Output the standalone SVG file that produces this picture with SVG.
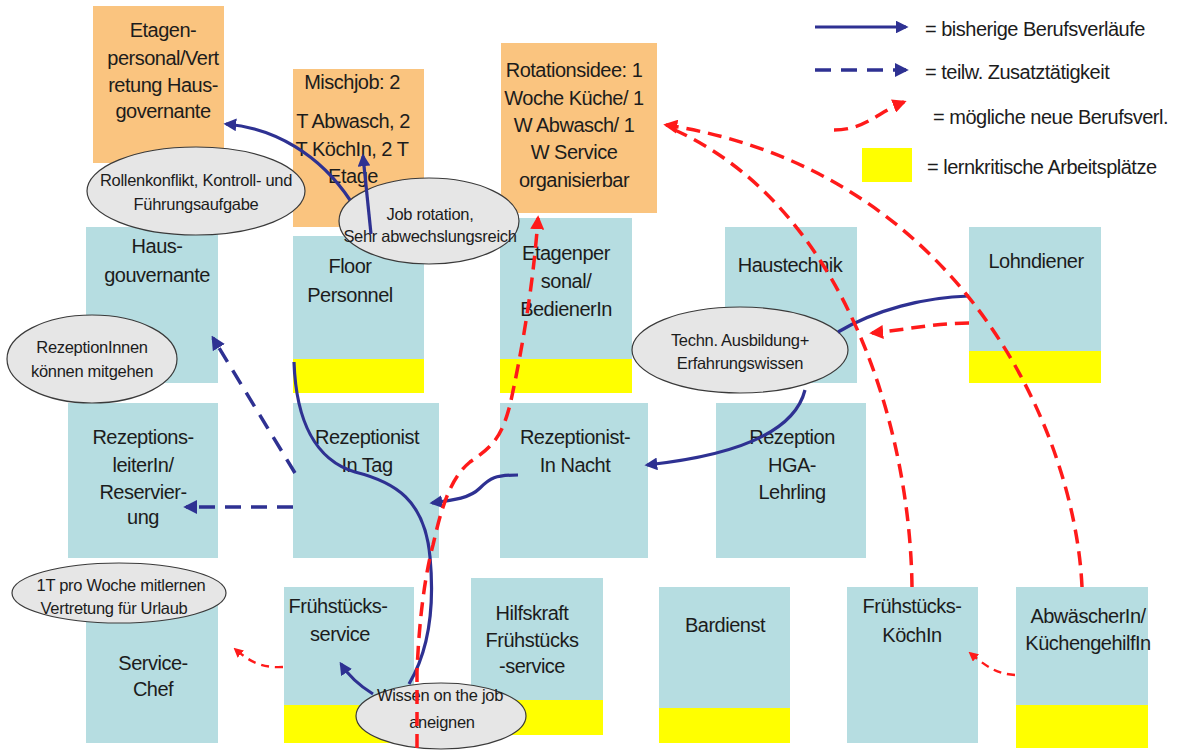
<svg xmlns="http://www.w3.org/2000/svg" width="1183" height="751" viewBox="0 0 1183 751">
<defs>
<style>
.o{fill:#FAC47F}
.b{fill:#B6DDE1}
.y{fill:#FFFF00}
.el{fill:#E6E6E6;stroke:#3A3A3A;stroke-width:1.2}
text{font-family:"Liberation Sans",Arial,sans-serif;fill:#1C1C1C}
.t{font-size:20px;letter-spacing:-0.5px;text-anchor:middle}
.e{font-size:16.5px;letter-spacing:-0.3px;text-anchor:middle}
.lg{font-size:20px;letter-spacing:-0.5px}
.bl{fill:none;stroke:#2E3192;stroke-width:3.2}
.bd{fill:none;stroke:#2E3192;stroke-width:3.5;stroke-dasharray:16 10}
.rd{fill:none;stroke:#FF1A1A;stroke-width:3.5;stroke-dasharray:14 8}
.rs{fill:none;stroke:#FF1A1A;stroke-width:2.4;stroke-dasharray:8 6}
</style>
<marker id="ab" viewBox="0 0 10 10" refX="8" refY="5" markerWidth="4" markerHeight="4" orient="auto"><path d="M0,0 L10,5 L0,10 z" fill="#2E3192"/></marker>
<marker id="ar" viewBox="0 0 10 10" refX="8" refY="5" markerWidth="4" markerHeight="4" orient="auto"><path d="M0,0 L10,5 L0,10 z" fill="#FF1A1A"/></marker>
<marker id="ars" viewBox="0 0 10 10" refX="8" refY="5" markerWidth="4" markerHeight="4" orient="auto"><path d="M0,0 L10,5 L0,10 z" fill="#FF1A1A"/></marker>
</defs>
<rect width="1183" height="751" fill="#FFFFFF"/>

<g id="legend">
<path class="bl" d="M815,27 L906,27" marker-end="url(#ab)"/>
<text class="lg" x="925" y="36">=  bisherige Berufsverläufe</text>
<path class="bd" d="M815,70 L906,70" marker-end="url(#ab)"/>
<text class="lg" x="925" y="79">=  teilw. Zusatztätigkeit</text>
<path class="rd" d="M834,130 C865,130 878,112 904,102" marker-end="url(#ar)"/>
<text class="lg" x="933" y="124">=  mögliche neue Berufsverl.</text>
<rect class="y" x="862" y="148" width="50" height="34"/>
<text class="lg" x="927" y="174">=  lernkritische Arbeitsplätze</text>
</g>

<g id="n-etagen-vertretung">
<rect class="o" x="93" y="6" width="131" height="157"/>
<text class="t" x="163" y="37">Etagen-</text>
<text class="t" x="163" y="65">personal/Vert</text>
<text class="t" x="163" y="92">retung  Haus-</text>
<text class="t" x="163" y="118">governante</text>
</g>
<g id="n-mischjob">
<rect class="o" x="293" y="69" width="131" height="158"/>
<text class="t" x="352" y="89">Mischjob: 2</text>
<text class="t" x="353" y="128">T Abwasch, 2</text>
<text class="t" x="352" y="156">T KöchIn, 2 T</text>
<text class="t" x="353" y="183">Etage</text>
</g>
<g id="n-rotationsidee">
<rect class="o" x="501" y="43" width="156" height="170"/>
<text class="t" x="574" y="77">Rotationsidee: 1</text>
<text class="t" x="574" y="105">Woche Küche/ 1</text>
<text class="t" x="574" y="132">W Abwasch/ 1</text>
<text class="t" x="574" y="159">W Service</text>
<text class="t" x="574" y="187">organisierbar</text>
</g>

<g id="n-hausgouvernante">
<rect class="b" x="86" y="227" width="132" height="156"/>
<text class="t" x="157" y="253">Haus-</text>
<text class="t" x="157" y="282">gouvernante</text>
</g>
<g id="n-floor">
<rect class="b" x="293" y="236" width="131" height="123"/>
<rect class="y" x="293" y="359" width="131" height="34"/>
<text class="t" x="350" y="273">Floor</text>
<text class="t" x="350" y="302">Personnel</text>
</g>
<g id="n-etagenpersonal">
<rect class="b" x="500" y="218" width="132" height="141"/>
<rect class="y" x="500" y="359" width="132" height="34"/>
<text class="t" x="566" y="260">Etagenper</text>
<text class="t" x="566" y="288">sonal/</text>
<text class="t" x="566" y="316">BedienerIn</text>
</g>
<g id="n-haustechnik">
<rect class="b" x="725" y="227" width="132" height="156"/>
<text class="t" x="790" y="272">Haustechnik</text>
</g>
<g id="n-lohndiener">
<rect class="b" x="969" y="227" width="132" height="124"/>
<rect class="y" x="969" y="351" width="132" height="32"/>
<text class="t" x="1036" y="268">Lohndiener</text>
</g>

<g id="n-rezeptionsleiterin">
<rect class="b" x="68" y="403" width="150" height="155"/>
<text class="t" x="143" y="444">Rezeptions-</text>
<text class="t" x="143" y="472">leiterIn/</text>
<text class="t" x="143" y="499">Reservier-</text>
<text class="t" x="143" y="524">ung</text>
</g>
<g id="n-rezeptionist-tag">
<rect class="b" x="293" y="403" width="146" height="155"/>
<text class="t" x="367" y="444">Rezeptionist</text>
<text class="t" x="367" y="472">In Tag</text>
</g>
<g id="n-rezeptionist-nacht">
<rect class="b" x="500" y="403" width="148" height="155"/>
<text class="t" x="575" y="444">Rezeptionist-</text>
<text class="t" x="575" y="472">In Nacht</text>
</g>
<g id="n-rezeption-hga">
<rect class="b" x="716" y="403" width="150" height="155"/>
<text class="t" x="792" y="444">Rezeption</text>
<text class="t" x="792" y="472">HGA-</text>
<text class="t" x="792" y="499">Lehrling</text>
</g>

<g id="n-servicechef">
<rect class="b" x="86" y="590" width="132" height="153"/>
<text class="t" x="153" y="670">Service-</text>
<text class="t" x="153" y="696">Chef</text>
</g>
<g id="n-fruehstuecksservice">
<rect class="b" x="284" y="587" width="130" height="118"/>
<rect class="y" x="284" y="705" width="130" height="38"/>
<text class="t" x="338" y="613">Frühstücks-</text>
<text class="t" x="340" y="641">service</text>
</g>
<g id="n-hilfskraft">
<rect class="b" x="471" y="578" width="132" height="122"/>
<rect class="y" x="471" y="700" width="132" height="35"/>
<text class="t" x="532" y="620">Hilfskraft</text>
<text class="t" x="532" y="647">Frühstücks</text>
<text class="t" x="532" y="673">-service</text>
</g>
<g id="n-bardienst">
<rect class="b" x="659" y="587" width="131" height="121"/>
<rect class="y" x="659" y="708" width="131" height="35"/>
<text class="t" x="725" y="632">Bardienst</text>
</g>
<g id="n-fruehstueckskoechin">
<rect class="b" x="847" y="587" width="131" height="156"/>
<text class="t" x="912" y="613">Frühstücks-</text>
<text class="t" x="912" y="642">KöchIn</text>
</g>
<g id="n-abwaescherin">
<rect class="b" x="1016" y="587" width="132" height="118"/>
<rect class="y" x="1016" y="705" width="132" height="43"/>
<text class="t" x="1088" y="623">AbwäscherIn/</text>
<text class="t" x="1088" y="650">KüchengehilfIn</text>
</g>

<g id="n-note-rollenkonflikt">
<ellipse class="el" cx="196" cy="191" rx="109" ry="44"/>
<text class="e" x="196" y="186">Rollenkonflikt, Kontroll- und</text>
<text class="e" x="196" y="210">Führungsaufgabe</text>
</g>
<g id="n-note-jobrotation">
<ellipse class="el" cx="429" cy="221" rx="90" ry="43"/>
<text class="e" x="430" y="220">Job rotation,</text>
<text class="e" x="430" y="242">Sehr abwechslungsreich</text>
</g>
<g id="n-note-rezeption">
<ellipse class="el" cx="92" cy="359" rx="85" ry="44"/>
<text class="e" x="92" y="353">RezeptionInnen</text>
<text class="e" x="92" y="377">können mitgehen</text>
</g>
<g id="n-note-techn">
<ellipse class="el" cx="740" cy="350" rx="108" ry="43"/>
<text class="e" x="740" y="346">Techn. Ausbildung+</text>
<text class="e" x="740" y="369">Erfahrungswissen</text>
</g>
<g id="n-note-mitlernen">
<ellipse class="el" cx="119" cy="593" rx="107" ry="30"/>
<text class="e" x="121" y="591">1T pro Woche mitlernen</text>
<text class="e" x="114" y="614">Vertretung für Urlaub</text>
</g>
<g id="n-note-wissen">
<ellipse class="el" cx="441" cy="716" rx="85" ry="33"/>
<text class="e" x="440" y="701">Wissen on the job</text>
<text class="e" x="442" y="728">aneignen</text>
</g>

<g id="connectors">
<path class="bl" d="M371,234 L363,156" marker-end="url(#ab)"/>
<path class="bl" d="M350,200 C320,155 275,128 226,124" marker-end="url(#ab)"/>
<path class="bl" d="M294,362 C296,420 315,460 355,472 C395,482 425,500 430,557 C435,610 428,652 409,684"/>
<path class="bl" d="M373,694 Q352,681 341,664" marker-end="url(#ab)"/>
<path class="bl" d="M518,475 C495,475 490,478 480,488 C470,498 455,500 432,503" marker-end="url(#ab)"/>
<path class="bl" d="M805,390 C795,430 740,455 647,465" marker-end="url(#ab)"/>
<path class="bl" d="M969,296 C925,297 875,310 838,332"/>
<path class="bd" d="M295,473 L213,338" marker-end="url(#ab)"/>
<path class="bd" d="M293,507 L186,507" marker-end="url(#ab)"/>
<path class="rd" d="M417,748 L417,672 C419,620 425,575 433,545 C440,515 448,480 470,462 C495,445 502,435 510,405 C520,360 533,290 538,218" marker-end="url(#ar)"/>
<path class="rd" d="M1082,587 C1075,430 960,170 666,125" marker-end="url(#ar)"/>
<path class="rd" d="M912,587 C910,420 840,200 668,127"/>
<path class="rd" d="M969,323 C935,323 905,330 872,333" marker-end="url(#ar)"/>
<path class="rs" d="M283,667 C265,668 252,664 235,649" marker-end="url(#ars)"/>
<path class="rs" d="M1015,675 C998,674 988,668 970,653" marker-end="url(#ars)"/>
</g>
</svg>
